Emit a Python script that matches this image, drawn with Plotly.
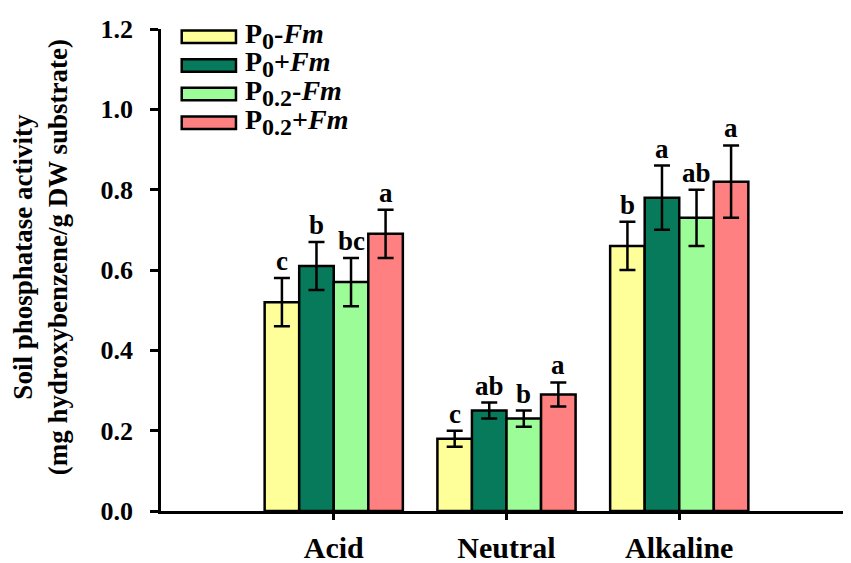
import plotly.graph_objects as go

# soil phosphatase activity
categories = ["Acid", "Neutral", "Alkaline"]
series_names = [
    "P<sub>0</sub>-<i>Fm</i>",
    "P<sub>0</sub>+<i>Fm</i>",
    "P<sub>0.2</sub>-<i>Fm</i>",
    "P<sub>0.2</sub>+<i>Fm</i>",
]
series_colors = ["#FFFF99", "#087A5C", "#9CFC98", "#FF8080"]

values = [
    [0.52, 0.18, 0.66],
    [0.61, 0.25, 0.78],
    [0.57, 0.23, 0.73],
    [0.69, 0.29, 0.82],
]
errors = [
    [0.06, 0.02, 0.06],
    [0.06, 0.02, 0.08],
    [0.06, 0.02, 0.07],
    [0.06, 0.03, 0.09],
]
letters = [
    ["c", "c", "b"],
    ["b", "ab", "a"],
    ["bc", "b", "ab"],
    ["a", "a", "a"],
]

FONT = "Liberation Serif, Times New Roman, serif"
BAR_W = 0.2


def bold(size):
    return {"family": FONT, "size": size, "color": "black", "weight": "bold"}


def legend_label(name):
    # plotly shrinks <sub> to 70%; the original keeps subscripts nearly full size
    return name.replace("<sub>", "<sub><span style='font-size:24px'>").replace("</sub>", "</span></sub>")


fig = go.Figure()
annotations = []
shapes = []

n = len(series_names)
for k in range(n):
    xs = [i + (k - (n - 1) / 2) * BAR_W for i in range(len(categories))]
    fig.add_trace(
        go.Bar(
            x=xs,
            y=values[k],
            width=BAR_W,
            name=series_names[k],
            marker={"color": series_colors[k], "line": {"color": "black", "width": 2.5}},
            error_y={"type": "data", "array": errors[k], "color": "black", "thickness": 2.5, "width": 8},
            showlegend=False,
        )
    )
    for x, v, e, lab in zip(xs, values[k], errors[k], letters[k]):
        annotations.append(
            dict(x=x, y=v + e, text=lab, showarrow=False, yanchor="bottom", yshift=0, font=bold(27))
        )

# hand-drawn legend with wide swatches, like the original
row_top = 0.984
row_step = 0.0595
for k in range(n):
    yc = row_top - k * row_step
    shapes.append(
        dict(
            type="rect", xref="paper", yref="paper",
            x0=0.030, x1=0.1085, y0=yc - 0.013, y1=yc + 0.013,
            fillcolor=series_colors[k], line={"color": "black", "width": 2.5},
        )
    )
    annotations.append(
        dict(
            xref="paper", yref="paper", x=0.119, y=yc + 0.002, text=legend_label(series_names[k]),
            showarrow=False, xanchor="left", yanchor="middle", font=bold(28),
        )
    )

annotations.append(
    dict(
        xref="paper", yref="paper", x=-0.174, y=0.526,
        text="Soil phosphatase activity<br>(mg hydroxybenzene/g DW substrate)",
        showarrow=False, textangle=-90, xanchor="center", yanchor="middle",
        font=bold(27),
    )
)

fig.update_layout(
    width=851,
    height=563,
    margin={"l": 153, "r": 7, "t": 14, "b": 51},
    paper_bgcolor="white",
    plot_bgcolor="white",
    barmode="overlay",
    annotations=annotations,
    shapes=shapes,
    font={"family": FONT, "color": "black"},
)
fig.update_xaxes(
    range=[-1, 3],
    tickvals=list(range(len(categories))),
    ticktext=categories,
    showline=True, linecolor="black", linewidth=2.5,
    ticks="outside", ticklen=6, tickwidth=2.5, tickcolor="black",
    ticklabelstandoff=2,
    tickfont=bold(30),
    showgrid=False, zeroline=False,
)
fig.update_yaxes(
    range=[0, 1.2],
    tickvals=[0, 0.2, 0.4, 0.6, 0.8, 1.0, 1.2],
    tickformat=".1f",
    showline=True, linecolor="black", linewidth=2.5,
    ticks="outside", ticklen=8, tickwidth=2.5, tickcolor="black",
    ticklabelstandoff=12,
    tickfont=bold(26),
    showgrid=False, zeroline=False,
)

fig.write_html("out.html")
